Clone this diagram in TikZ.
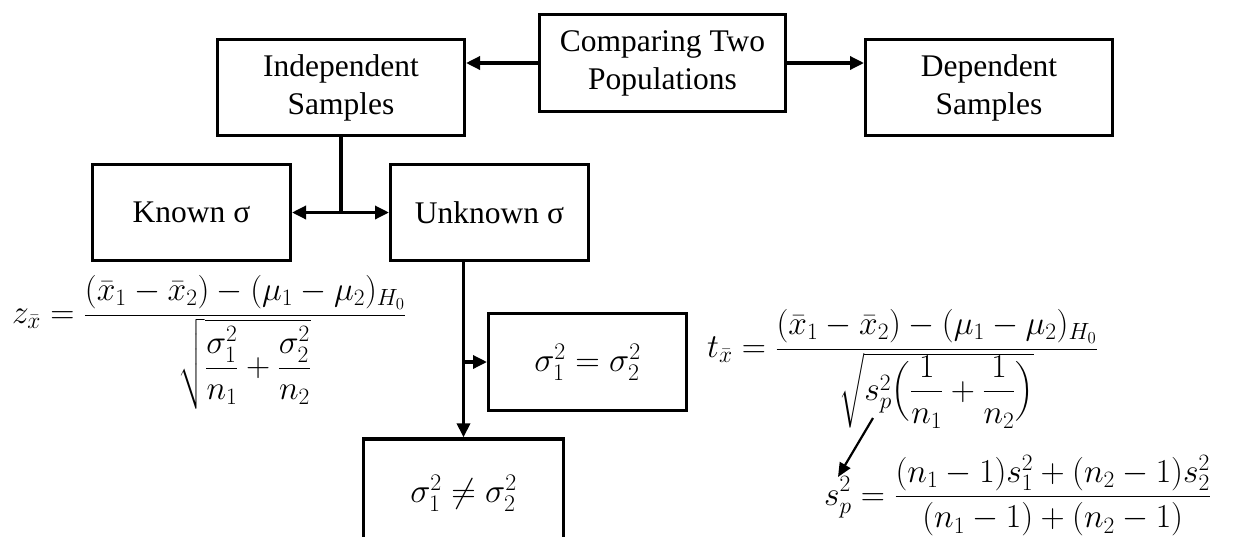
\RequirePackage{fix-cm}
\documentclass[tikz,border=0pt]{standalone}
\usepackage{amsmath}
\usepackage[no-math]{fontspec}
\setmainfont{Liberation Serif}
\usetikzlibrary{arrows.meta}
\begin{document}
\begin{tikzpicture}[x=1pt,y=-1pt,
  box/.style={draw, line width=3.3pt, inner sep=0pt, align=center,
    font=\fontsize{31.5}{38}\selectfont},
  arr/.style={line width=3.3pt, -{Triangle[length=14pt,width=13pt]}},
  darr/.style={line width=3.3pt, {Triangle[length=14pt,width=13pt]}-{Triangle[length=14pt,width=13pt]}},
  thinarr/.style={line width=2.2pt, -{Triangle[length=14pt,width=12pt]}},
  formula/.style={anchor=base west, inner sep=0pt, font=\fontsize{33.5}{40}\selectfont}]
\useasboundingbox (0,0) rectangle (1236,536);

\node[box, minimum width=245.7pt, minimum height=96.7pt] (comp) at (662.5,63) {Comparing Two\\Populations};
\node[box, minimum width=246.7pt, minimum height=95.7pt] (indep) at (341,87.5) {Independent\\Samples};
\node[box, minimum width=246.7pt, minimum height=95.7pt] (dep) at (989,87.5) {Dependent\\Samples};
\node[box, minimum width=197.7pt, minimum height=95.7pt] (known) at (191.5,212.5) {Known σ};
\node[box, minimum width=197.7pt, minimum height=95.7pt] (unknown) at (489.5,212.5) {Unknown σ};
\node[box, minimum width=197.7pt, minimum height=96.7pt, font=\fontsize{34}{40}\selectfont] (eq) at (587.5,362) {$\sigma_1^2=\sigma_2^2$};
\node[box, minimum width=199.7pt, minimum height=108pt, font=\fontsize{34}{40}\selectfont] (ne) at (463.5,493) {$\sigma_1^2\neq\sigma_2^2$};

\draw[arr] (comp.west) -- (comp.west -| indep.east);
\draw[arr] (comp.east) -- (comp.east -| dep.west);

\coordinate (j) at (indep.south |- known.east);
\draw[line width=3.3pt] (indep.south) -- (j);
\draw[darr] (known.east) -- (unknown.west);

\coordinate (top) at (ne.north |- unknown.south);
\coordinate (br) at (ne.north |- eq.west);
\draw[arr] (top) -- (ne.north);
\draw[arr] (br) -- (eq.west);

\node[formula] (zf) at (12,323.5) {$\displaystyle z_{\bar x}=\frac{(\bar x_1-\bar x_2)-(\mu_1-\mu_2)_{H_0}}{\sqrt{\dfrac{\sigma_1^2}{n_1}+\dfrac{\sigma_2^2}{n_2}}}$};
\node[formula] (tf) at (707,357.5) {$\displaystyle t_{\bar x}=\frac{(\bar x_1-\bar x_2)-(\mu_1-\mu_2)_{H_0}}{\sqrt{s_p^2\Bigl(\dfrac{1}{n_1}+\dfrac{1}{n_2}\Bigr)}}$};
\node[formula] (sf) at (824,505) {$\displaystyle s_p^2=\frac{(n_1-1)s_1^2+(n_2-1)s_2^2}{(n_1-1)+(n_2-1)}$};

\coordinate (a1) at (873,418);
\coordinate (a2) at (838,477);
\draw[thinarr] (a1) -- (a2);
\end{tikzpicture}
\end{document}
